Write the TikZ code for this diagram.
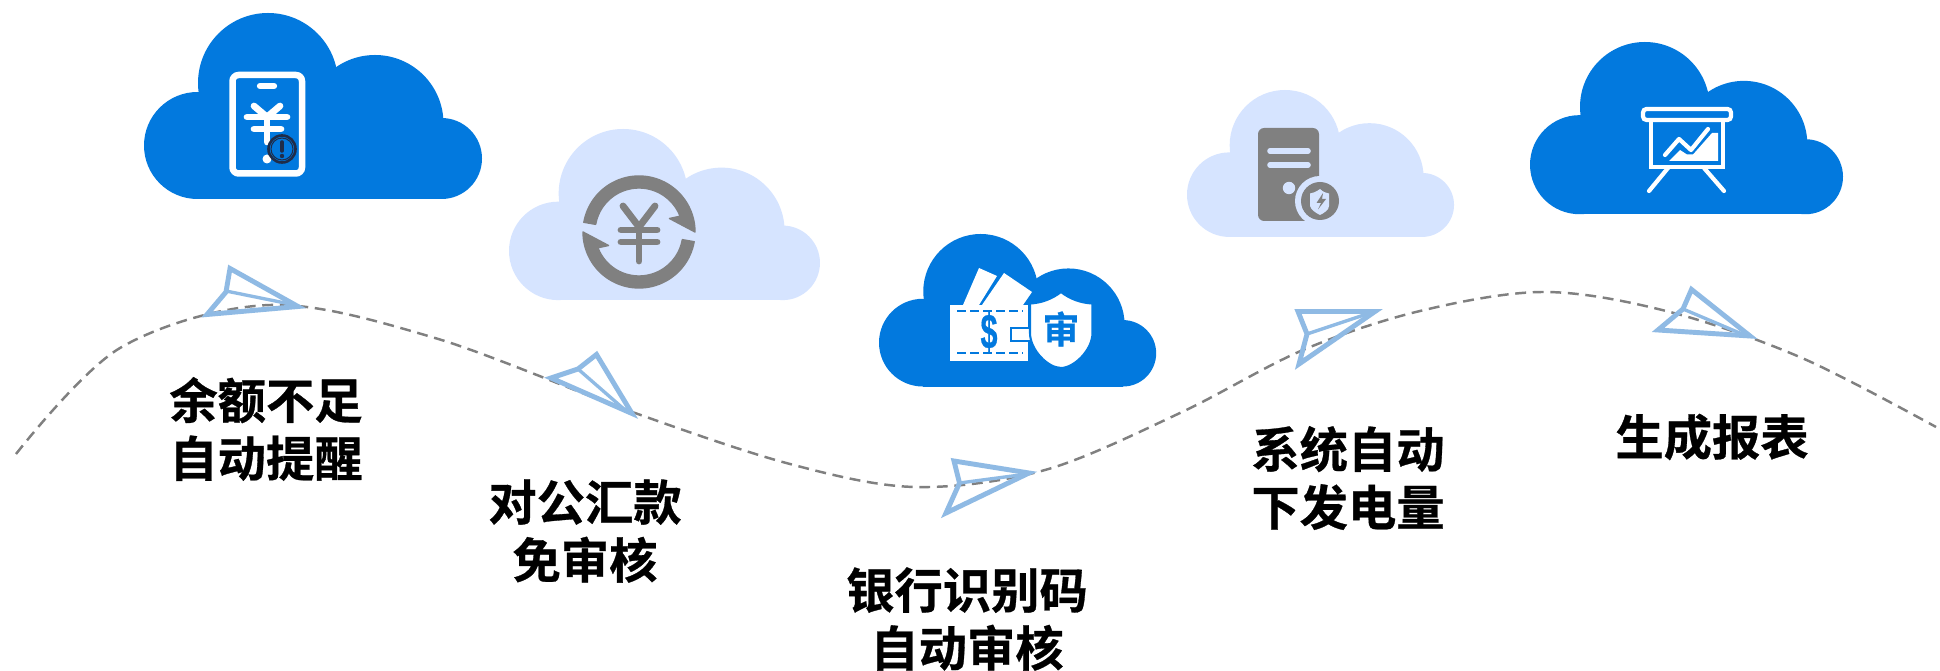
\documentclass[tikz,border=0pt]{standalone}
\usepackage{fontspec}
\usepackage{graphicx}
\newfontfamily\cjk{Noto Sans CJK SC Bold}[FakeBold=0.6]
\newfontfamily\lsans{Liberation Sans Bold}[FakeBold=0.6]
\definecolor{cblue}{HTML}{0279DE}
\definecolor{clight}{HTML}{D6E4FF}
\definecolor{cgray}{HTML}{808080}
\definecolor{cplane}{HTML}{8FBAE4}
\definecolor{cdark}{HTML}{1F2D4A}
\newcommand{\cloudat}[4]{%
  \begin{scope}[shift={(#1,#2)},scale=#3,shift={(-144,-13)}]
    \fill[#4] (197.5,145.5) circle[radius=53.5];
    \fill[#4] (268,83) circle[radius=70];
    \fill[#4] (375,123.5) circle[radius=68.5];
    \fill[#4] (441.5,158.5) circle[radius=40.5];
    \fill[#4] (197.5,125) rectangle (441.5,199);
  \end{scope}}
\newcommand{\ringhalf}{%
  \fill[cgray,draw=cgray,line width=0.8pt,line join=round]
    plot[domain=170:0,samples=50,variable=\t] ({56*cos(\t)},{-56*sin(\t)})
    -- (30.5,-13.5)
    -- plot[domain=21:170,samples=50,variable=\t] ({44*cos(\t)},{-44*sin(\t)}) -- cycle;}
\tikzset{
  label text/.style={font=\fontsize{27.5pt}{33pt}\selectfont\cjk,align=center,text=black,inner sep=0pt},
  plane/.style={draw=cplane,line width=2.8pt,miter limit=10,line join=miter},
  planeinner/.style={draw=cplane,line width=1.9pt},
  wline/.style={draw=white,line width=#1,line cap=round,line join=round},
  gline/.style={draw=cgray,line width=#1,line cap=round,line join=round}
}
\begin{document}
\begin{tikzpicture}[x=0.02cm,y=-0.02cm]
\useasboundingbox (0,0) rectangle (1940,671);
\fill[white] (0,0) rectangle (1940,671);
% clouds
\cloudat{144}{13}{1}{cblue}
\cloudat{509}{129}{0.92}{clight}
\cloudat{879}{234}{0.82}{cblue}
\cloudat{1187}{90}{0.79}{clight}
\cloudat{1530}{42}{0.926}{cblue}
% dashed flight path
\draw[cgray,line width=1.4pt,dash pattern=on 6.2pt off 3.8pt] plot[smooth,tension=0.55] coordinates {
 (16,454) (120,348) (270,305) (435,338) (635,413) (790,464) (915,487)
 (1045,470) (1180,413) (1303,350) (1420,311) (1545,292) (1670,312) (1802,358) (1936,427)};
% planes
\draw[plane] (298,306.5) -- (230,268.5) -- (226,292) -- (207,314.5) -- cycle;
\draw[planeinner] (226,291) -- (290,304);
\draw[plane] (632,413.5) -- (596.5,354.5) -- (578,369) -- (551,378) -- cycle;
\draw[planeinner] (578,369) -- (625,410);
\draw[plane] (1029,473) -- (954,461) -- (959.5,483) -- (946,513) -- cycle;
\draw[planeinner] (959.5,483) -- (1020,475);
\draw[plane] (1375,311.5) -- (1298,311.5) -- (1307,334) -- (1299,364) -- cycle;
\draw[planeinner] (1307,334) -- (1370,313);
\draw[plane] (1750,336) -- (1691.5,289.5) -- (1683,309) -- (1658,330) -- cycle;
\draw[planeinner] (1683,309) -- (1742,334);
% icon 1: phone
\draw[white,line width=3.7pt,rounded corners=3.5pt] (232.5,75) rectangle (302,173.5);
\draw[wline=3.6pt] (260,86) -- (274,86);
\draw[wline=3.8pt] (254,106) -- (267,117) -- (280,106);
\draw[wline=3.8pt] (247,117) -- (287,117);
\draw[wline=3.8pt] (254,129) -- (281,129);
\draw[wline=3.8pt] (267,117) -- (267,142);
\fill[white] (267,159) circle[radius=4.5];
\draw[draw=cdark,fill=cblue,line width=1.5pt] (282,149) circle[radius=13.5];
\draw[cdark,line width=0.6pt] (282,149) circle[radius=11];
\draw[cdark,line width=2pt,line cap=round] (282,142) -- (282,151);
\fill[cdark] (282,156) circle[radius=2.2];
% icon 2: yen exchange
\begin{scope}[shift={(639,232)}]
  \ringhalf
  \begin{scope}[rotate=180]
    \ringhalf
  \end{scope}
  \draw[gline=3.9pt] (-16,-26) -- (0,-5) -- (16,-26);
  \draw[gline=3.9pt] (0,-5) -- (0,29);
  \draw[gline=3.9pt] (-18,-2) -- (18,-2);
  \draw[gline=3.9pt] (-18,10) -- (18,10);
\end{scope}
% icon 3: wallet and shield
\fill[white] (979,268) -- (997,276) -- (979,305) -- (963,305) -- cycle;
\fill[white] (1004,273) -- (1032,292) -- (1023,305) -- (982,305) -- cycle;
\fill[white] (950,305) rectangle (1028,361);
\draw[cblue,line width=1.5pt,dash pattern=on 5.2pt off 2.2pt] (957,311) -- (1023,311);
\draw[cblue,line width=1.5pt,dash pattern=on 5.2pt off 2.2pt] (957,353) -- (1023,353);
\node[inner sep=0pt,text=cblue,font=\fontsize{28pt}{28pt}\selectfont\lsans] (dollar) at (989,332) {\scalebox{0.62}[1]{\$}};
\draw[cblue,fill=white,line width=1.2pt] (1011,328) rectangle (1034,341);
\draw[cblue,fill=white,line width=1.2pt] (1061,292) .. controls (1052,299) and (1041,303) .. (1030,303.5) -- (1030,333) .. controls (1030,350) and (1048,368) .. (1061,368) .. controls (1074,368) and (1092.5,350) .. (1092.5,333) -- (1092.5,303.5) .. controls (1081,303) and (1070,299) .. (1061,292) -- cycle;
\node[inner sep=0pt,text=cblue,font=\fontsize{21pt}{21pt}\selectfont\cjk] (shen) at (1061,329) {审};
% icon 4: server
\fill[cgray,rounded corners=3.5pt] (1258,128) rectangle (1319,221);
\draw[clight,line width=3.2pt,line cap=round] (1270,151) -- (1308,151);
\draw[clight,line width=3.2pt,line cap=round] (1270,165) -- (1308,165);
\fill[clight] (1289,188) circle[radius=6.2];
\fill[clight] (1320,201) circle[radius=25];
\fill[cgray] (1320,201) circle[radius=19];
\fill[clight] (1320,189) .. controls (1316,192) and (1313,193) .. (1310,193.5) -- (1310,206) .. controls (1311,210) and (1316,213) .. (1320,215) .. controls (1324,213) and (1329,210) .. (1329,206) -- (1329,193.5) .. controls (1326,193) and (1323,192) .. (1320,189) -- cycle;
\fill[cgray] (1323,193) -- (1316.5,203) -- (1321,203) -- (1318,209.5) -- (1326,199) -- (1322,199) -- cycle;
% icon 5: presentation
\draw[white,line width=2.4pt,rounded corners=2pt] (1643,109) rectangle (1731,120);
\draw[white,line width=2.4pt] (1651,120) rectangle (1723,167);
\draw[wline=2.4pt] (1668,168) -- (1649,191);
\draw[wline=2.4pt] (1704,168) -- (1724,191);
\draw[wline=2.4pt] (1665,155) -- (1679,139) -- (1691,150) -- (1708,129);
\fill[white] (1669,161) -- (1680,150) -- (1687,154.5) -- (1693,154.5) -- (1712,133) -- (1718,133) -- (1718,161) -- cycle;
% labels
\node[label text] (t1) at (266,429) {余额不足\\自动提醒};
\node[label text] (t2) at (585,531) {对公汇款\\免审核};
\node[label text] (t3) at (967,619) {银行识别码\\自动审核};
\node[label text] (t4) at (1348,478) {系统自动\\下发电量};
\node[label text] (t5) at (1712,437) {生成报表};
\end{tikzpicture}
\end{document}
